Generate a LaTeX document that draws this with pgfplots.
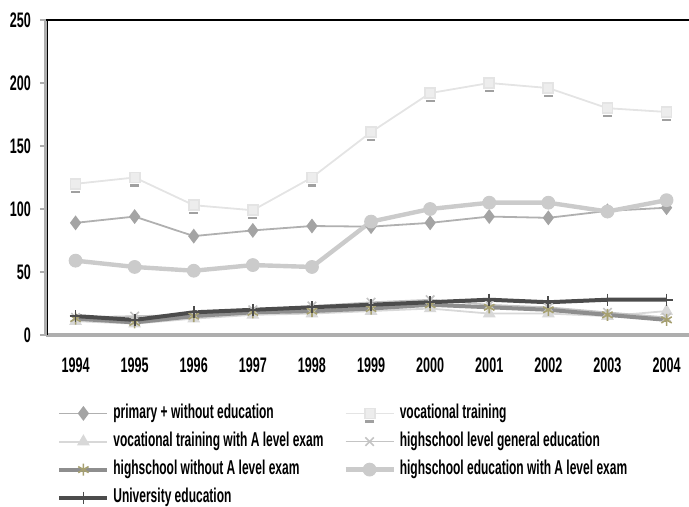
\documentclass[border=0pt]{standalone}
\usepackage{fontspec}
\setmainfont{Liberation Sans}[FakeStretch=0.6]
\usepackage{pgfplots}
\pgfplotsset{compat=1.18}
\definecolor{cVoc}{HTML}{E4E4E4}
\definecolor{cVocM}{HTML}{EDEDED}
\definecolor{cVocS}{HTML}{A0A0A0}
\definecolor{cPrim}{HTML}{B0B0B0}
\definecolor{cPrimM}{HTML}{A4A4A4}
\definecolor{cVocA}{HTML}{D8D8D8}
\definecolor{cGen}{HTML}{C4C4C4}
\definecolor{cNoA}{HTML}{8E8E8E}
\definecolor{cNoAM}{HTML}{A6A070}
\definecolor{cWithA}{HTML}{CBCBCB}
\definecolor{cUni}{HTML}{4C4C4C}
\definecolor{cAxis}{HTML}{AEAEAE}
\pgfdeclareplotmark{sqsh}{%
  \pgfpathrectangle{\pgfpoint{-\pgfplotmarksize}{-\pgfplotmarksize}}{\pgfpoint{2\pgfplotmarksize}{2\pgfplotmarksize}}%
  \pgfusepathqfillstroke
  \begin{pgfscope}%
  \pgfsetfillcolor{cVocS}%
  \pgfpathrectangle{\pgfpoint{-2.2pt}{-4.6pt}}{\pgfpoint{4.4pt}{1.1pt}}%
  \pgfusepathqfill
  \end{pgfscope}}
\begin{document}
\begin{tikzpicture}
\begin{axis}[
  at={(0pt,0pt)}, anchor=south west,
  width=321.5pt, height=157.5pt, scale only axis,
  xmin=-0.5, xmax=10.38, ymin=0, ymax=250,
  axis x line*=bottom, axis y line*=left,
  x axis line style={draw=cAxis, line width=1.6pt, -},
  y axis line style={draw=cAxis, line width=1.6pt, -},
  xtick={0,...,10},
  xticklabels={1994,1995,1996,1997,1998,1999,2000,2001,2002,2003,2004},
  x tick style={draw=none},
  extra x ticks={-0.5,0.5,1.5,2.5,3.5,4.5,5.5,6.5,7.5,8.5,9.5},
  extra x tick labels={},
  extra x tick style={tick style={draw=cAxis, line width=1pt}, major tick length=3pt},
  ytick={0,50,100,150,200,250},
  y tick style={draw=cAxis, line width=1pt},
  tick align=outside, major tick length=3pt,
  tick label style={font=\bfseries\fontsize{10.5}{12}\selectfont, text=black},
  /pgf/number format/assume math mode=true,
  xticklabel style={yshift=-5pt},
  yticklabel style={xshift=-1pt},
  clip=false,
  legend columns=2,
  legend cell align=left,
  legend image code/.code={\draw[#1, mark repeat=2, mark phase=2] plot coordinates {(0pt,0pt) (12pt,0pt) (24pt,0pt)};},
  legend style={at={(rel axis cs:0,0)}, anchor=north west, xshift=5.5pt, yshift=-34.5pt,
    draw=none, fill=none, inner sep=0pt, row sep=5pt, column sep=0pt,
    font=\bfseries\fontsize{10}{11}\selectfont,
    nodes={inner xsep=2pt, inner ysep=0pt, text height=7pt, text depth=2pt}},
]
\draw[black, line width=0.7pt] (rel axis cs:0,1) -- (rel axis cs:1,1);
\draw[black, line width=0.5pt] ([xshift=0.5pt]rel axis cs:0,0) -- ([xshift=0.5pt]rel axis cs:0,1);
% primary + without education
\addplot[color=cPrim, line width=0.9pt, mark=diamond*, mark size=3pt, mark options={fill=cPrimM, draw=cPrimM}]
coordinates {(0,89) (1,94) (2,78.5) (3,83) (4,86.5) (5,86) (6,89) (7,94) (8,93) (9,98.5) (10,101)};
\addlegendentry{\makebox[113pt][l]{primary + without education}}
% vocational training
\addplot[color=cVoc, line width=0.9pt, mark=sqsh, mark size=2.5pt, mark options={fill=cVocM, draw=cVoc}]
coordinates {(0,120) (1,125) (2,103) (3,99) (4,125) (5,161) (6,192) (7,200) (8,196) (9,180) (10,177)};
\addlegendentry{\makebox[113pt][l]{vocational training}}
% vocational training with A level exam
\addplot[color=cVocA, line width=0.9pt, mark=triangle*, mark size=2.8pt, mark options={fill=cVocA, draw=cVocA}]
coordinates {(0,11) (1,9) (2,13) (3,16) (4,17) (5,19) (6,21) (7,17) (8,17) (9,15) (10,19)};
\addlegendentry{\makebox[113pt][l]{vocational training with A level exam}}
% highschool level general education
\addplot[color=cGen, line width=0.8pt, mark=x, mark size=3pt, mark options={draw=cGen, line width=0.8pt}]
coordinates {(0,14) (1,15) (2,16) (3,20) (4,23) (5,26) (6,28) (7,24) (8,22) (9,18) (10,14)};
\addlegendentry{\makebox[113pt][l]{highschool level general education}}
% highschool without A level exam
\addplot[color=cNoA, line width=2pt, mark=asterisk, mark size=3pt, mark options={draw=cNoAM, line width=0.8pt}]
coordinates {(0,13) (1,10) (2,15) (3,18) (4,19) (5,21) (6,24) (7,22) (8,20) (9,16) (10,12)};
\addlegendentry{\makebox[113pt][l]{highschool without A level exam}}
% highschool education with A level exam
\addplot[color=cWithA, line width=2.2pt, mark=*, mark size=3.2pt, mark options={fill=cWithA, draw=cWithA, line width=0.5pt}]
coordinates {(0,59) (1,54) (2,51) (3,55.5) (4,54) (5,90) (6,100) (7,105) (8,105) (9,98) (10,107)};
\addlegendentry{\makebox[113pt][l]{highschool education with A level exam}}
% University education
\addplot[color=cUni, line width=2pt, mark=+, mark size=3pt, mark options={draw=cUni, line width=0.9pt}]
coordinates {(0,15) (1,12) (2,18) (3,20) (4,22) (5,24) (6,26) (7,28) (8,26) (9,28) (10,28)};
\addlegendentry{\makebox[113pt][l]{University education}}
\end{axis}
\pgfresetboundingbox
\path[use as bounding box] (-23pt,-86pt) rectangle (321.5pt,167.5pt);
\end{tikzpicture}
\end{document}
